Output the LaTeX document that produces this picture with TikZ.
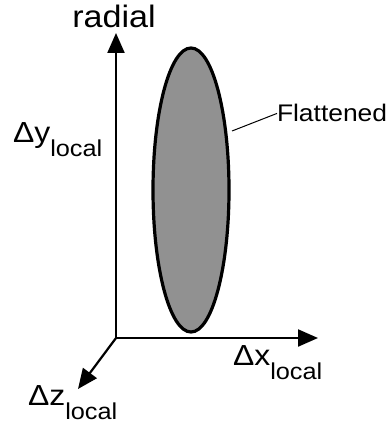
\documentclass[tikz,border=0pt]{standalone}
\usepackage{fontspec}
\setmainfont{Liberation Sans}[FakeStretch=1.1]
\usetikzlibrary{arrows.meta}
\newcommand{\dlab}[1]{{\fontsize{29pt}{29pt}\selectfont \char"0394#1}\raisebox{-14pt}{\fontsize{23pt}{23pt}\selectfont local}}
\tikzset{
  axis/.style={line width=2.2pt, -{Triangle[length=20pt,width=17pt]}},
  lbl/.style={inner sep=0pt, outer sep=0pt, anchor=base west},
  blob/.style={draw=black, line width=3.2pt, fill=black!43},
}
\begin{document}
\begin{tikzpicture}[x=1pt,y=-1pt]
\useasboundingbox (0,0) rectangle (386,427);
\coordinate (O) at (116,338);
\coordinate (Ytip) at (116,33);
\coordinate (Xtip) at (318,338);
\coordinate (Ztip) at (78,389);
\draw[blob] (191,190) ellipse [x radius=38, y radius=142];
\draw[axis] (O) -- (Ytip);
\draw[axis] (O) -- (Xtip);
\draw[axis] (O) -- (Ztip);
\node[inner sep=0pt, anchor=base, font=\fontsize{31pt}{31pt}\selectfont] (radial) at (114,28) {radial};
\node[lbl] (dy) at (13,143) {\dlab{y}};
\node[lbl] (dx) at (233,365) {\dlab{x}};
\node[lbl] (dz) at (28,405) {\dlab{z}};
\node[lbl, font=\fontsize{24pt}{24pt}\selectfont] (flat) at (277,122) {Flattened};
\coordinate (lead) at (232,131);
\draw[line width=1pt] (lead) -- (flat.west);
\end{tikzpicture}
\end{document}
